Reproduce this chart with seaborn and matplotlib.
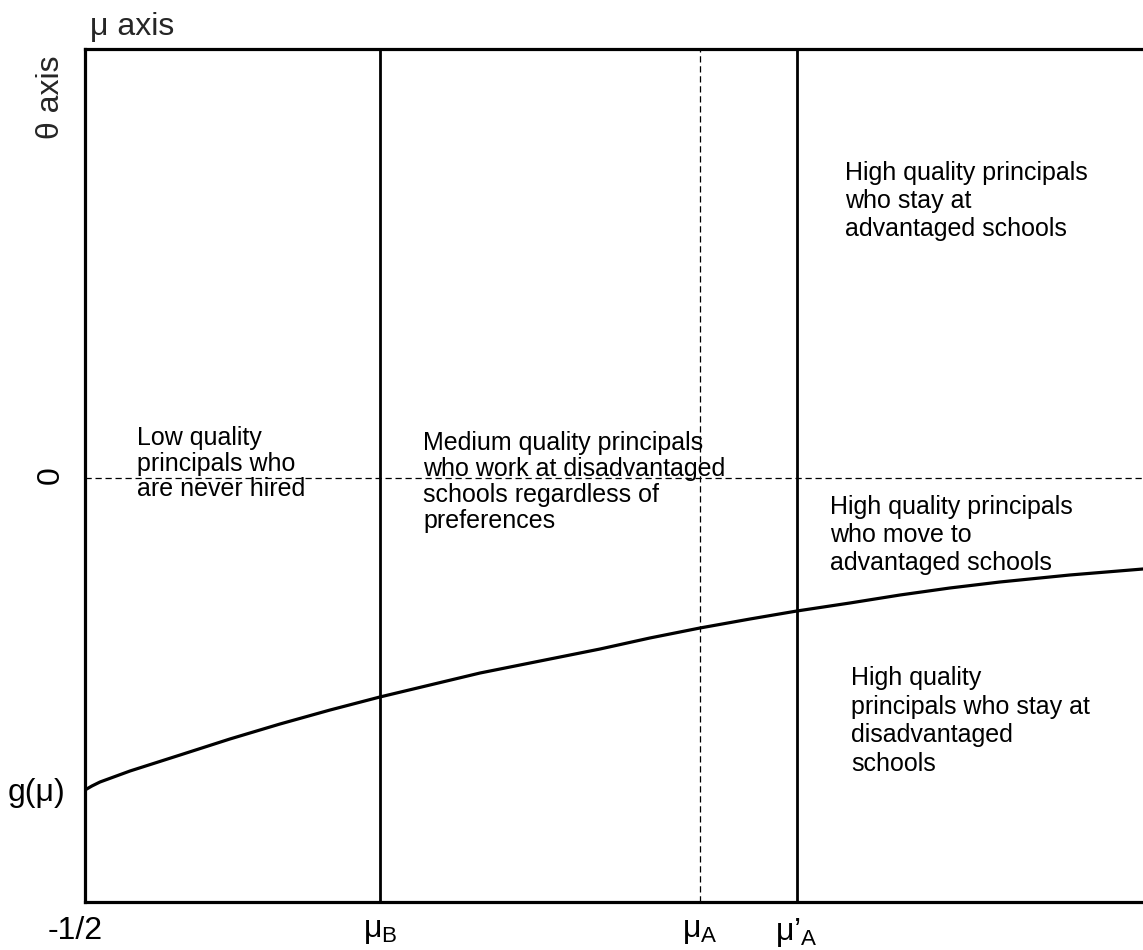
import matplotlib
matplotlib.use("Agg")
import matplotlib.pyplot as plt
import matplotlib.transforms as mtransforms
import seaborn as sns
import pandas as pd

# g(mu): lower boundary curve, read at points along the mu axis
mu_values = [-0.5, -0.477, -0.45, -0.35, -0.183, -0.017, 0.15, 0.317, 0.483, 0.65,
             0.817, 1.017, 1.217, 1.383, 1.55, 1.717, 1.873, 2.05, 2.217, 2.383,
             2.55, 2.783, 3.027]
g_values = [-3.12, -3.08, -3.04, -2.93, -2.77, -2.61, -2.46, -2.32, -2.19, -2.07,
            -1.95, -1.83, -1.71, -1.60, -1.50, -1.41, -1.33, -1.25, -1.17, -1.10,
            -1.04, -0.97, -0.91]

# thresholds on the mu axis
mu_B = 0.483
mu_A = 1.55
mu_A_prime = 1.873

x_tick_values = [-0.5, mu_B, mu_A, mu_A_prime]
x_tick_labels = ["-1/2", "μ$_B$", "μ$_A$", "μ’$_A$"]
y_tick_values = [-3.12, 0.0]
y_tick_labels = ["g(μ)", "0"]

region_labels = [
    "Low quality\nprincipals who\nare never hired",
    "Medium quality principals\nwho work at disadvantaged\nschools regardless of\npreferences",
    "High quality principals\nwho stay at\nadvantaged schools",
    "High quality principals\nwho move to\nadvantaged schools",
    "High quality\nprincipals who stay at\ndisadvantaged\nschools",
]
region_x = [-0.327, 0.627, 2.033, 1.983, 2.053]
region_y = [0.52, 0.47, 3.17, -0.17, -1.88]
region_spacing = [1.08, 1.1, 1.22, 1.22, 1.24]

sns.set_theme(style="white")
plt.rcParams["font.family"] = ["Liberation Sans", "DejaVu Sans"]
plt.rcParams["mathtext.fontset"] = "custom"
plt.rcParams["mathtext.rm"] = "Liberation Sans"
plt.rcParams["mathtext.it"] = "Liberation Sans"
plt.rcParams["mathtext.default"] = "regular"

fig = plt.figure(figsize=(11.43, 9.5), dpi=100)
ax = fig.add_axes([85 / 1143, 48 / 950, 1 - 85 / 1143, 853 / 950])

curve = pd.DataFrame({"mu": mu_values, "g": g_values})
sns.lineplot(data=curve, x="mu", y="g", ax=ax, color="black", linewidth=2.3)

# vertical thresholds
ax.axvline(mu_B, color="black", linewidth=2.0)
ax.axvline(mu_A_prime, color="black", linewidth=2.0)
ax.axvline(mu_A, color="black", linewidth=0.9, linestyle=(0, (5, 3)))
# theta = 0
ax.axhline(0.0, color="black", linewidth=0.9, linestyle=(0, (5, 3)))

ax.set_xlim(-0.5, 3.027)
ax.set_ylim(-4.24, 4.29)

for side in ["left", "top", "bottom"]:
    ax.spines[side].set_visible(True)
    ax.spines[side].set_linewidth(2.3)
    ax.spines[side].set_color("black")
ax.spines["right"].set_visible(False)

tick_size = 23
ax.set_xticks(x_tick_values)
ax.set_xticklabels(x_tick_labels, fontsize=tick_size)
ax.set_yticks(y_tick_values)
ax.set_yticklabels(y_tick_labels, fontsize=tick_size)
ax.tick_params(axis="both", length=0, colors="black")
ax.tick_params(axis="x", pad=10)
ax.tick_params(axis="y", pad=14)
for lbl in ax.get_yticklabels():
    if lbl.get_text() == "0":
        lbl.set_rotation(90)
        lbl.set_verticalalignment("center")
        lbl.set_transform(lbl.get_transform() + mtransforms.ScaledTranslation(
            0, 3 / 100, fig.dpi_scale_trans))
first_x = ax.get_xticklabels()[0]
first_x.set_transform(first_x.get_transform() + mtransforms.ScaledTranslation(
    -10 / 100, 0, fig.dpi_scale_trans))

ax.set_xlabel("")
ax.set_ylabel("θ axis", fontsize=tick_size, rotation=90)
ax.yaxis.set_label_coords(-0.018, 0.943)

ax.text(0.005, 1.008, "μ axis", transform=ax.transAxes, fontsize=tick_size,
        ha="left", va="bottom")

for txt, tx, ty, ls in zip(region_labels, region_x, region_y, region_spacing):
    ax.text(tx, ty, txt, fontsize=18, ha="left", va="top", linespacing=ls,
            color="black")

fig.savefig("out.png", dpi=100)
